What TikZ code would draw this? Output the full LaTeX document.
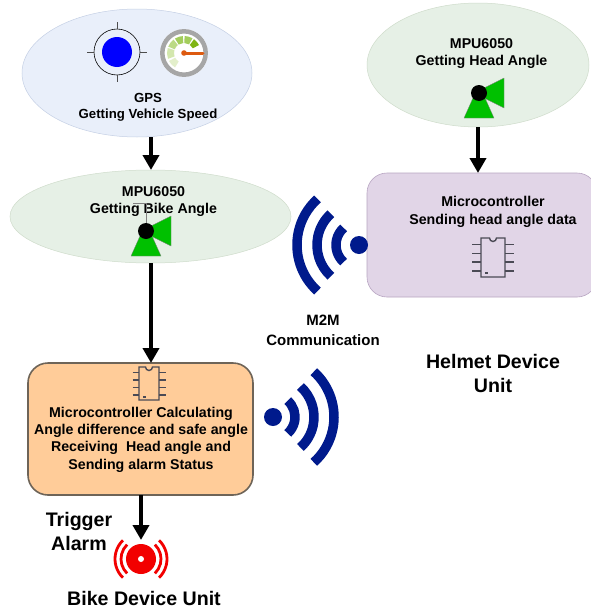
\documentclass[tikz,border=0pt]{standalone}
\usepackage{fontspec}
\setmainfont{Liberation Sans}
\usetikzlibrary{arrows.meta,shapes.geometric}
\definecolor{wifiblue}{HTML}{001A8C}
\definecolor{chipgray}{HTML}{4A4A55}
\definecolor{sgreen}{HTML}{00C000}
\definecolor{gpsfill}{HTML}{E9EFFA}
\definecolor{gpsline}{HTML}{C5D0E5}
\definecolor{mpufill}{HTML}{E6F0E6}
\definecolor{mpuline}{HTML}{CFDCCB}
\definecolor{mcufill}{HTML}{E1D5E7}
\definecolor{mculine}{HTML}{B8A5C2}
\definecolor{calcfill}{HTML}{FFCC99}
\definecolor{calcline}{HTML}{6E6458}
\definecolor{needle}{HTML}{DD5A10}
\definecolor{gaugeA}{HTML}{E3EFCB}
\definecolor{gaugeB}{HTML}{D3E7AD}
\definecolor{gaugeC}{HTML}{BBDA85}
\definecolor{gaugeD}{HTML}{A3CD5C}
\definecolor{gaugeE}{HTML}{7FB414}
\tikzset{
  x=1pt,y=-1pt,
  lbl/.style={font=\bfseries\fontsize{14.2}{17.3}\selectfont,align=center,text=black,inner sep=0pt},
  gpslbl/.style={font=\bfseries\fontsize{13.2}{16}\selectfont,align=center,text=black,inner sep=0pt},
  midlbl/.style={font=\bfseries\fontsize{15}{20}\selectfont,align=center,text=black,inner sep=0pt},
  biglbl/.style={font=\bfseries\fontsize{19.6}{24}\selectfont,align=center,text=black,inner sep=0pt},
  flow/.style={line width=4.5pt,black,-{Triangle[length=15pt,width=16pt]}},
  wifiarc/.style={line width=9.5pt,wifiblue},
  alarmarc/.style={line width=2.8pt,red!95!black},
  pin/.style={line width=1.4pt,chipgray},
  blob/.style={ellipse,draw,line width=.5pt,inner sep=0pt}
}
\newcommand{\sensor}[2]{%
  \begin{scope}[shift={(#1,#2)}]
    \fill[sgreen,draw=gray,line width=.3pt] (-6,5) -- (-15,25) -- (15,25) -- (6,5) -- cycle;
    \fill[sgreen,draw=gray,line width=.3pt] (5,-5) -- (25,-15) -- (25,15) -- (5,5) -- cycle;
    \fill[black] (0,0) circle (8);
  \end{scope}}
% x, y, half body width, half body height, pin length
\newcommand{\chipicon}[5]{%
  \begin{scope}[shift={(#1,#2)}]
    \draw[pin] (-#3,-#4) -- (-3.5,-#4) arc[start angle=180,end angle=0,radius=3.5] -- (#3,-#4) -- (#3,#4) -- (-#3,#4) -- cycle;
    \foreach \ff in {-0.68,-0.22,0.24,0.70}{
      \draw[pin] (-#3-#5,\ff*#4) -- (-#3,\ff*#4);
      \draw[pin] (#3,\ff*#4) -- (#3+#5,\ff*#4);}
    \fill[chipgray] (-#3+4,#4*0.76) rectangle (-#3+6.5,#4*0.86);
  \end{scope}}
\begin{document}
\begin{tikzpicture}
\useasboundingbox (0,0) rectangle (591,608);
\fill[white] (0,0) rectangle (591,608);
% blobs
\node[blob,fill=gpsfill,draw=gpsline,minimum width=230pt,minimum height=128pt] (gps) at (137,73) {};
\node[blob,fill=mpufill,draw=mpuline,minimum width=281pt,minimum height=93pt] (bike) at (150.5,216.5) {};
\node[blob,fill=mpufill,draw=mpuline,minimum width=222pt,minimum height=124pt] (head) at (478,65) {};
\draw[rounded corners=20pt,fill=mcufill,draw=mculine,line width=.6pt] (367,173) rectangle (597,297);
\coordinate (mcuTop) at (478,173);
\draw[rounded corners=20pt,fill=calcfill,draw=calcline,line width=1.6pt] (28,363) rectangle (253,495);
\coordinate (calcTop) at (151,363);
\coordinate (calcBot) at (141,495);
\coordinate (alarmTop) at (141,540);
\coordinate (gpsOut) at (151,137);
\coordinate (bikeIn) at (151,170);
\coordinate (bikeOut) at (151,263);
% GPS icon
\draw[line width=.6pt,black] (117,52) circle (23);
\fill[blue] (117,52) circle (15);
\foreach \a in {0,90,180,270}{\draw[line width=.6pt,black!70] (117,52) ++(\a:23) -- ++(\a:7);}
% gauge
\begin{scope}[shift={(184,53)}]
  \fill[white] (0,0) circle (24);
  \draw[line width=4.5pt,black!35] (0,0) circle (21.7);
  \foreach \s/\e/\c in {122/152/gaugeA,160/197/gaugeB,202/232/gaugeC,238/266/gaugeD,272/300/gaugeD,306/332/gaugeE}{
    \fill[color=\c] (\s:17) arc[start angle=\s,end angle=\e,radius=17] -- (\e:10) arc[start angle=\e,end angle=\s,radius=10] -- cycle;}
  \fill[needle] (0,0) circle (2.8);
  \draw[line width=3pt,line cap=round,needle] (0,0) -- (19,0);
\end{scope}
% labels
\node[gpslbl] (gpstxt) at (148,107) {GPS\\Getting Vehicle Speed};
\node[lbl] (biketxt) at (153.5,201.5) {MPU6050\\Getting Bike Angle};
\node[lbl] (headtxt) at (481.5,53.5) {MPU6050\\Getting Head Angle};
\node[lbl] (mcutxt) at (493,212) {Microcontroller\\Sending head angle data};
\node[lbl] (calctxt) at (141,439.5) {Microcontroller Calculating\\Angle difference and safe angle\\Receiving\ \ Head angle and\\Sending alarm Status};
\node[midlbl] (m2m) at (323,330) {M2M\\Communication};
\node[biglbl] (helmet) at (493,373) {Helmet Device\\Unit};
\node[biglbl] (trigger) at (79,531) {Trigger\\Alarm};
\node[biglbl] (bikeunit) at (144,598) {Bike Device Unit};
% sensors
\draw[line width=.4pt,gray] (146,231) -- (146,203) -- (133,203);
\sensor{146}{231}
\sensor{479}{93}
% chips
\chipicon{149}{383.5}{10}{16.5}{6.5}
\chipicon{493}{257.5}{12}{19.5}{9}
% wifi
\coordinate (w1) at (359,245);
\fill[wifiblue] (w1) circle (9);
\foreach \r in {23,42,62}{\draw[wifiarc] (w1) ++(132:\r) arc[start angle=132,end angle=228,radius=\r];}
\coordinate (w2) at (273,417);
\fill[wifiblue] (w2) circle (9);
\foreach \r in {22,41,61}{\draw[wifiarc] (w2) ++(-48:\r) arc[start angle=-48,end angle=48,radius=\r];}
% alarm
\coordinate (al) at (141,559);
\fill[red!95!black] (al) circle (15);
\fill[white] (al) circle (3);
\foreach \r in {20,26}{
  \draw[alarmarc] (al) ++(-46:\r) arc[start angle=-46,end angle=46,radius=\r];
  \draw[alarmarc] (al) ++(134:\r) arc[start angle=134,end angle=226,radius=\r];}
% arrows
\draw[flow] (gpsOut) -- (bikeIn);
\draw[flow] (head.south) -- (mcuTop);
\draw[flow] (bikeOut) -- (calcTop);
\draw[flow] (calcBot) -- (alarmTop);
\end{tikzpicture}
\end{document}
